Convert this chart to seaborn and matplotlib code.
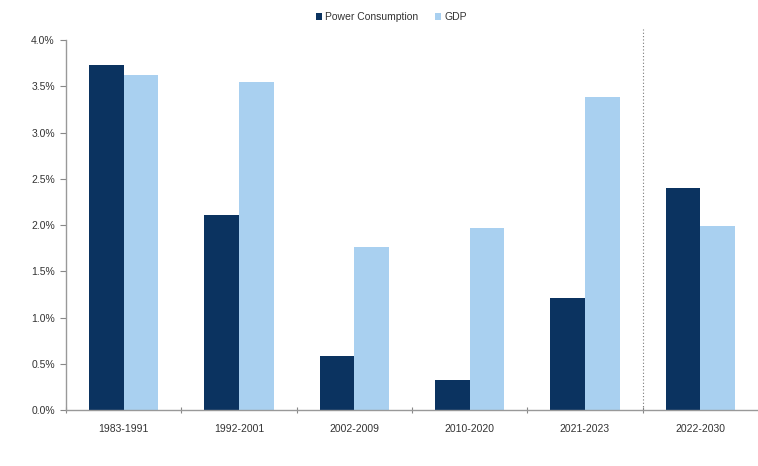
import matplotlib
matplotlib.use("Agg")
import matplotlib.pyplot as plt
import seaborn as sns
import pandas as pd
from matplotlib.ticker import FuncFormatter

periods = ["1983-1991", "1992-2001", "2002-2009", "2010-2020", "2021-2023", "2022-2030"]
power = [3.73, 2.11, 0.59, 0.32, 1.21, 2.40]
gdp = [3.62, 3.55, 1.76, 1.97, 3.39, 1.99]
series = ["Power Consumption", "GDP"]
colors = ["#0B3360", "#A9D0F0"]

df = pd.DataFrame({
    "period": periods * 2,
    "value": power + gdp,
    "series": [series[0]] * len(periods) + [series[1]] * len(periods),
})

sns.set_style("white")
plt.rcParams['font.family'] = ['Liberation Sans', 'DejaVu Sans']

fig = plt.figure(figsize=(7.58, 4.66), dpi=100)
ax = fig.add_axes([0.087, 0.12, 0.913, 0.794])
sns.barplot(data=df, x="period", y="value", hue="series", palette=colors,
            width=0.6, gap=0, ax=ax, saturation=1, legend=True, linewidth=0)

ax.set_xlim(-0.5, 5.5)
ax.set_ylim(0, 4.0)
ax.set_yticks([0, 0.5, 1.0, 1.5, 2.0, 2.5, 3.0, 3.5, 4.0])
ax.yaxis.set_major_formatter(FuncFormatter(lambda v, p: f"{v:.1f}%"))
ax.set_xticks([0, 1, 2, 3, 4, 5])
ax.set_xticks([-0.5, 0.5, 1.5, 2.5, 3.5, 4.5], minor=True)
ax.tick_params(axis='x', which='major', bottom=False, length=0, labelsize=7.5, colors="#333333", pad=10)
ax.tick_params(axis='x', which='minor', bottom=True, length=4, color="#888888", direction='inout', width=0.8)
ax.tick_params(axis='y', left=True, length=4, labelsize=7.5, colors="#333333", color="#888888",
               direction='out', width=0.8, pad=4)
ax.set_xlabel("")
ax.set_ylabel("")
for s in ["top", "right"]:
    ax.spines[s].set_visible(False)
for s in ["left", "bottom"]:
    ax.spines[s].set_color("#999999")
    ax.spines[s].set_linewidth(1.0)

ax.axvline(4.5, color="#777777", linestyle=(0, (1, 2)), linewidth=0.8, ymin=0, ymax=1.03, clip_on=False)

leg = ax.legend(loc="upper center", bbox_to_anchor=(0.47, 1.10), ncol=2, frameon=False,
                fontsize=7.5, handlelength=0.6, handleheight=0.6, handletextpad=0.3,
                columnspacing=1.6)
for t in leg.get_texts():
    t.set_color("#333333")

fig.savefig("out.png", dpi=100)
